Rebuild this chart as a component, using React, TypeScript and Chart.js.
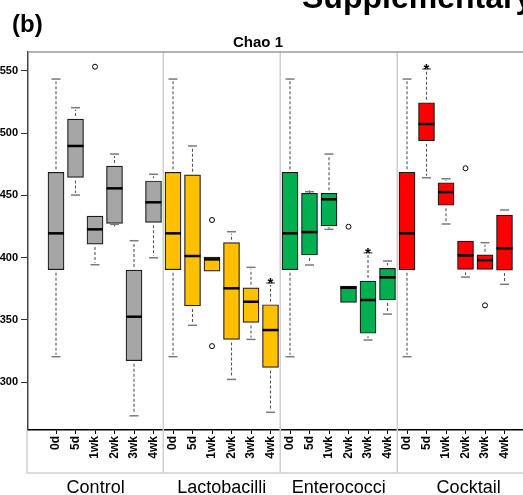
import React, { useEffect, useRef } from "react";
import { Chart, registerables } from "chart.js";
Chart.register(...registerables);

const categories = ["0d", "5d", "1wk", "2wk", "3wk", "4wk"];
const groups = ["Control", "Lactobacilli", "Enterococci", "Cocktail"];
const groupColors = ["#A6A6A6", "#FFC000", "#00B050", "#FF0000"];
const yTicks = [300, 350, 400, 450, 500, 550];

// [lower whisker, Q1, median, Q3, upper whisker]
const controlStats = [
  [320.5, 390.3, 419.5, 468.5, 543.3],
  [450.2, 464.4, 489.6, 511.2, 520.3],
  [394.3, 410.9, 422.7, 433.4, 433.4],
  [426.7, 427.5, 455.6, 473.5, 483.1],
  [273.1, 317.3, 352.6, 390.0, 413.6],
  [399.9, 428.3, 444.4, 461.5, 466.9],
];
const lactobacilliStats = [
  [320.5, 390.3, 419.5, 468.5, 543.3],
  [345.7, 361.2, 401.3, 466.5, 489.6],
  [389.2, 389.2, 398.6, 400.5, 400.5],
  [302.3, 334.4, 375.4, 412.0, 420.8],
  [334.4, 348.0, 364.6, 375.8, 392.2],
  [275.9, 311.9, 341.9, 362.2, 379.6],
];
const enterococciStats = [
  [320.5, 390.3, 419.5, 468.5, 543.3],
  [394.1, 402.1, 420.5, 451.6, 452.9],
  [422.7, 425.4, 446.8, 451.6, 483.1],
  [364.1, 364.1, 375.8, 377.2, 377.2],
  [333.9, 339.3, 366.0, 381.2, 403.9],
  [354.7, 366.0, 384.2, 391.4, 397.3],
];
const cocktailStats = [
  [320.5, 390.3, 419.5, 468.5, 543.3],
  [464.1, 493.8, 507.2, 524.3, 551.4],
  [427.0, 442.0, 452.6, 460.1, 463.3],
  [384.4, 390.6, 401.8, 413.3, 413.3],
  [390.6, 390.6, 398.0, 402.3, 412.0],
  [378.6, 390.0, 407.5, 434.2, 438.2],
];

const controlOutliers = [[], [], [553.2], [], [], []];
const lactobacilliOutliers = [[], [], [430.2, 329.0], [], [], []];
const enterococciOutliers = [[], [], [], [424.8], [], []];
const cocktailOutliers = [[], [], [], [471.7], [361.7], []];

const controlStars = [false, false, false, false, false, false];
const lactobacilliStars = [false, false, false, false, false, true];
const enterococciStars = [false, false, false, false, true, false];
const cocktailStars = [false, true, false, false, false, false];

const allStats = [controlStats, lactobacilliStats, enterococciStats, cocktailStats];
const allOutliers = [controlOutliers, lactobacilliOutliers, enterococciOutliers, cocktailOutliers];
const allStars = [controlStars, lactobacilliStars, enterococciStars, cocktailStars];

type Item = { x: number; s: number[]; out: number[]; star: boolean; color: string };
const items: Item[] = [];
allStats.forEach((gs, g) =>
  gs.forEach((s, c) =>
    items.push({ x: g * categories.length + c, s, out: allOutliers[g][c], star: allStars[g][c], color: groupColors[g] })
  )
);

const FONT = "'Liberation Sans', Arial, Helvetica, sans-serif";

const boxPlugin = {
  id: "boxExtras",
  beforeDatasetsDraw(chart: any) {
    const { ctx, chartArea, scales } = chart;
    const xs = scales.x;
    ctx.save();
    ctx.strokeStyle = "#cfcfcf";
    ctx.lineWidth = 1.5;
    for (let g = 1; g < groups.length; g++) {
      const px = xs.getPixelForValue(g * categories.length - 0.5);
      ctx.beginPath();
      ctx.moveTo(px, chartArea.top);
      ctx.lineTo(px, 473);
      ctx.stroke();
    }
    // frame below the axis
    ctx.beginPath();
    ctx.moveTo(chartArea.left - 1, chartArea.bottom);
    ctx.lineTo(chartArea.left - 1, 473);
    ctx.lineTo(chartArea.right, 473);
    ctx.stroke();
    // top border
    ctx.strokeStyle = "#9a9a9a";
    ctx.beginPath();
    ctx.moveTo(chartArea.left, chartArea.top);
    ctx.lineTo(chartArea.right, chartArea.top);
    ctx.stroke();
    ctx.restore();
  },
  afterDatasetsDraw(chart: any) {
    const { ctx, scales } = chart;
    const xs = scales.x;
    const ys = scales.y;
    ctx.save();
    items.forEach((it) => {
      const px = xs.getPixelForValue(it.x);
      const [lo, q1, med, q3, hi] = it.s;
      const capHalf = 4.5;
      const drawWhisker = (from: number, to: number) => {
        const y0 = ys.getPixelForValue(from);
        const y1 = ys.getPixelForValue(to);
        ctx.setLineDash([3, 2]);
        ctx.strokeStyle = "#555";
        ctx.lineWidth = 1.1;
        ctx.beginPath();
        const dir = y1 > y0 ? 1 : -1;
        ctx.moveTo(px, y0 + dir * 3);
        ctx.lineTo(px, y1 - dir * 2);
        ctx.stroke();
        ctx.setLineDash([]);
        ctx.strokeStyle = "#7a7a7a";
        ctx.lineWidth = 1.5;
        ctx.beginPath();
        ctx.moveTo(px - capHalf, y1);
        ctx.lineTo(px + capHalf, y1);
        ctx.stroke();
      };
      if (hi > q3) drawWhisker(q3, hi);
      if (lo < q1) drawWhisker(q1, lo);
      // median
      ctx.setLineDash([]);
      ctx.strokeStyle = "#000";
      ctx.lineWidth = 2.5;
      const my = ys.getPixelForValue(med);
      ctx.beginPath();
      ctx.moveTo(px - 8, my);
      ctx.lineTo(px + 8, my);
      ctx.stroke();
      // outliers
      ctx.lineWidth = 1;
      it.out.forEach((v) => {
        ctx.beginPath();
        ctx.arc(px, ys.getPixelForValue(v), 2.5, 0, Math.PI * 2);
        ctx.stroke();
      });
      if (it.star) {
        ctx.fillStyle = "#000";
        ctx.font = `bold 15px ${FONT}`;
        ctx.textAlign = "center";
        ctx.textBaseline = "alphabetic";
        ctx.fillText("*", px, ys.getPixelForValue(hi) + 5);
      }
    });
    ctx.restore();
  },
  afterDraw(chart: any) {
    const { ctx, chartArea, scales } = chart;
    const xs = scales.x;
    ctx.save();
    ctx.fillStyle = "#000";
    ctx.textBaseline = "alphabetic";
    // group labels
    ctx.font = `18px ${FONT}`;
    ctx.textAlign = "center";
    groups.forEach((g, i) => {
      const l = i === 0 ? chartArea.left : xs.getPixelForValue(i * categories.length - 0.5);
      const r = i === groups.length - 1 ? chartArea.right : xs.getPixelForValue((i + 1) * categories.length - 0.5);
      ctx.fillText(g, (l + r) / 2, 493);
    });
    // titles
    ctx.font = `bold 15px ${FONT}`;
    ctx.fillText("Chao 1", 258, 47);
    ctx.textAlign = "left";
    ctx.font = `bold 24px ${FONT}`;
    ctx.fillText("(b)", 12, 32);
    ctx.font = `bold 32px ${FONT}`;
    ctx.fillText("Supplementary", 302, 8);
    ctx.restore();
  },
};

export default function App() {
  const ref = useRef<HTMLCanvasElement>(null);
  useEffect(() => {
    if (!ref.current) return;
    const chart = new Chart(ref.current, {
      type: "bar",
      data: {
        datasets: [
          {
            data: items.map((it) => ({ x: it.x, y: [it.s[1], it.s[3]] })) as any,
            backgroundColor: items.map((it) => it.color),
            borderColor: "#1a1a1a",
            borderWidth: 1.2,
            borderSkipped: false,
            barThickness: 16,
          } as any,
        ],
      },
      options: {
        responsive: false,
        animation: false,
        devicePixelRatio: 1,
        layout: { padding: { top: 52, left: 0, right: 0, bottom: 0 } },
        plugins: { legend: { display: false }, tooltip: { enabled: false }, title: { display: false } },
        scales: {
          x: {
            type: "linear",
            min: -1.436,
            max: 24.82,
            offset: false,
            afterBuildTicks: (s: any) => {
              s.ticks = items.map((it) => ({ value: it.x }));
            },
            afterFit: (s: any) => {
              s.height = 65;
            },
            ticks: {
              autoSkip: false,
              minRotation: 90,
              maxRotation: 90,
              padding: 2,
              color: "#000",
              font: { family: FONT, weight: "bold", size: 12 },
              callback: (v: any) => categories[Math.round(Number(v)) % categories.length],
            },
            grid: { display: true, drawOnChartArea: false, drawTicks: true, tickLength: 4, color: "#000", lineWidth: 1, offset: false },
            border: { display: true, color: "#000", width: 1.5 },
          } as any,
          y: {
            min: 261.7,
            max: 565,
            afterBuildTicks: (s: any) => {
              s.ticks = yTicks.map((v) => ({ value: v }));
            },
            afterFit: (s: any) => {
              s.width = 28;
            },
            ticks: {
              padding: 3,
              color: "#000",
              font: { family: FONT, weight: "bold", size: 11 },
              callback: (v: any) => String(v),
            },
            grid: { display: true, drawOnChartArea: false, drawTicks: true, tickLength: 7, color: "#333", lineWidth: 1 },
            border: { display: true, color: "#444", width: 1.5 },
          } as any,
        },
      },
      plugins: [boxPlugin],
    });
    return () => chart.destroy();
  }, []);
  return (
    <div style={{ position: "fixed", left: 0, top: 0, width: 523, height: 495, overflow: "hidden", background: "#fff" }}>
      <canvas ref={ref} width={540} height={495} style={{ display: "block", width: 540, height: 495 }} />
    </div>
  );
}
